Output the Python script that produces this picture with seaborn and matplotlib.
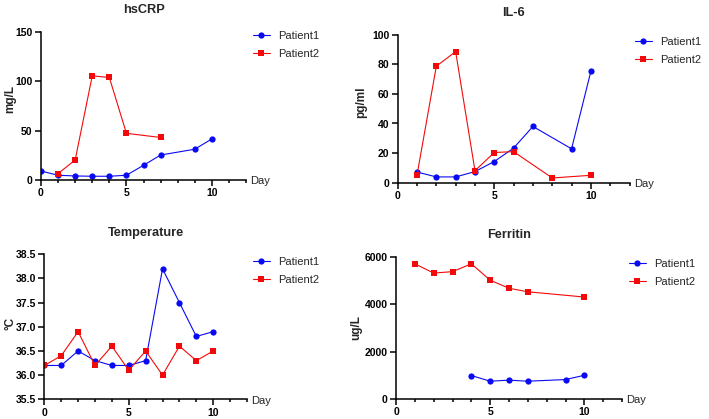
import matplotlib
matplotlib.use("Agg")
import matplotlib.pyplot as plt
import seaborn as sns
import pandas as pd
from matplotlib.ticker import FixedLocator

# ---------------- data ----------------
crp_p1_days = [0, 1, 2, 3, 4, 5, 6, 7, 9, 10]
crp_p1 = [9.1, 4.8, 4.1, 3.8, 3.8, 4.8, 14.9, 25.3, 31.2, 41.6]
crp_p2_days = [1, 2, 3, 4, 5, 7]
crp_p2 = [6.5, 20.3, 105.6, 103.9, 47.3, 43.1]

il6_p1_days = [1, 2, 3, 4, 5, 6, 7, 9, 10]
il6_p1 = [7.2, 3.9, 3.9, 7.5, 14.3, 23.4, 38.0, 22.9, 75.3]
il6_p2_days = [1, 2, 3, 4, 5, 6, 8, 10]
il6_p2 = [5.2, 78.7, 88.6, 8.1, 20.4, 21.0, 3.2, 5.0]

temp_p1_days = [0, 1, 2, 3, 4, 5, 6, 7, 8, 9, 10]
temp_p1 = [36.2, 36.2, 36.5, 36.3, 36.2, 36.2, 36.3, 38.2, 37.5, 36.8, 36.9]
temp_p2_days = [0, 1, 2, 3, 4, 5, 6, 7, 8, 9, 10]
temp_p2 = [36.2, 36.4, 36.9, 36.2, 36.6, 36.1, 36.5, 36.0, 36.6, 36.3, 36.5]

fer_p1_days = [4, 5, 6, 7, 9, 10]
fer_p1 = [990, 750, 795, 750, 820, 1000]
fer_p2_days = [1, 2, 3, 4, 5, 6, 7, 10]
fer_p2 = [5700, 5310, 5370, 5700, 5010, 4670, 4520, 4300]

patients = ["Patient1", "Patient2"]
colors = {"Patient1": "#0a0af2", "Patient2": "#f20a0a"}
markers = {"Patient1": "o", "Patient2": "s"}

titles = ["hsCRP", "IL-6", "Temperature", "Ferritin"]
ylabels = ["mg/L", "pg/ml", "\u00b0C", "ug/L"]
x_major = [0, 5, 10]
x_minor = [1, 2, 3, 4, 6, 7, 8, 9, 11, 12]
yticks = [
    [0, 50, 100, 150],
    [0, 20, 40, 60, 80, 100],
    [35.5, 36.0, 36.5, 37.0, 37.5, 38.0, 38.5],
    [0, 2000, 4000, 6000],
]

def make_df(d1, v1, d2, v2):
    return pd.DataFrame({
        "Day": list(d1) + list(d2),
        "Value": list(v1) + list(v2),
        "Patient": [patients[0]] * len(d1) + [patients[1]] * len(d2),
    })

dfs = [
    make_df(crp_p1_days, crp_p1, crp_p2_days, crp_p2),
    make_df(il6_p1_days, il6_p1, il6_p2_days, il6_p2),
    make_df(temp_p1_days, temp_p1, temp_p2_days, temp_p2),
    make_df(fer_p1_days, fer_p1, fer_p2_days, fer_p2),
]

# ---------------- style ----------------
sns.set_style("ticks")
plt.rcParams["font.family"] = ["Liberation Sans", "DejaVu Sans"]

W, H = 709, 419
fig = plt.figure(figsize=(W / 100, H / 100), dpi=100)

# axes rectangles in pixel coords: left, right, top, bottom
rects = [
    (41, 246, 32, 180),
    (397.7, 629.5, 34.7, 182.7),
    (44.3, 247, 254.3, 399.3),
    (396, 622, 256.7, 399),
]
# right edge (x) and centre (y) of the rotated y labels, in pixels
ylabel_px = [(16, 99), (367, 102), (16, 323), (362, 328)]
legend_px = [(253, 31), (635, 37), (253, 257), (629, 259)]

for i, (l, r, t, b) in enumerate(rects):
    ax = fig.add_axes([l / W, 1 - b / H, (r - l) / W, (b - t) / H])
    sns.lineplot(data=dfs[i], x="Day", y="Value", hue="Patient", style="Patient",
                 hue_order=patients, style_order=patients,
                 palette=colors, markers=markers, dashes=False,
                 estimator=None, sort=True, linewidth=0.8, markersize=4.5,
                 markeredgewidth=0, ax=ax)
    ax.set_xlim(0, 12)
    ax.set_ylim(yticks[i][0], yticks[i][-1])
    ax.xaxis.set_major_locator(FixedLocator(x_major))
    ax.xaxis.set_minor_locator(FixedLocator(x_minor))
    ax.yaxis.set_major_locator(FixedLocator(yticks[i]))
    if i == 2:
        ax.set_yticklabels([f"{v:.1f}" for v in yticks[i]])
    for s in ["top", "right"]:
        ax.spines[s].set_visible(False)
    for s in ["left", "bottom"]:
        ax.spines[s].set_linewidth(1.1)
        ax.spines[s].set_color("black")
    ax.tick_params(which="major", direction="out", length=4, width=1.1,
                   colors="black", labelsize=7.5, pad=2)
    ax.tick_params(which="minor", direction="out", length=2.5, width=1.1, colors="black")
    for lab in ax.get_xticklabels() + ax.get_yticklabels():
        lab.set_fontweight("bold")
    ax.set_xlabel("")
    ax.set_ylabel(ylabels[i], fontsize=8.5, fontweight="bold")
    yl_x, yl_y = ylabel_px[i]
    ax.yaxis.set_label_coords((yl_x - l) / (r - l), (b - yl_y) / (b - t))
    ax.set_title(titles[i], fontsize=9.2, fontweight="bold", pad=13.5)
    ax.annotate("Day", xy=(1, 0), xycoords="axes fraction", xytext=(3, -1),
                textcoords="offset points", ha="left", va="center", fontsize=8)
    handles, labels = ax.get_legend_handles_labels()
    lx, ly = legend_px[i]
    ax.legend(handles, labels, loc="upper left",
              bbox_to_anchor=((lx - l) / (r - l), (b - ly) / (b - t)),
              frameon=False, fontsize=8, borderpad=0, borderaxespad=0,
              handlelength=1.5, handletextpad=0.8, labelspacing=0.75)

fig.savefig("out.png", dpi=100)
